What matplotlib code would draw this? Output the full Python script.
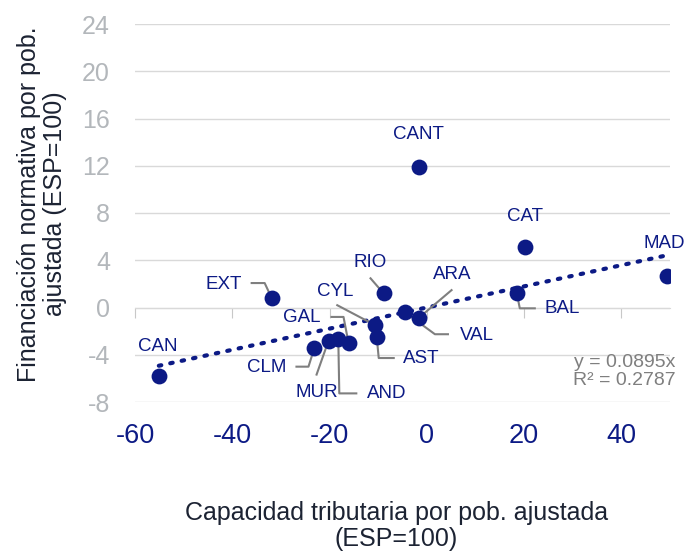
import numpy as np
import matplotlib
matplotlib.use("Agg")
from matplotlib import pyplot as plt

# Capacidad tributaria (x) y financiación normativa (y), desviación respecto a ESP=100
regions = ["CAN", "EXT", "CLM", "MUR", "AND", "GAL", "CYL", "AST",
           "RIO", "VAL", "ARA", "CANT", "BAL", "CAT", "MAD"]
capacidad = [-55.1, -31.9, -23.1, -20.2, -18.2, -16.1, -10.6, -10.3,
             -8.9, -4.5, -1.7, -1.7, 18.5, 20.2, 49.3]
financiacion = [-5.8, 0.8, -3.4, -2.8, -2.7, -3.0, -1.5, -2.5,
                1.2, -0.4, -0.9, 11.9, 1.2, 5.1, 2.7]

slope = 0.0895
r2 = 0.2787

y_ticks = [-8, -4, 0, 4, 8, 12, 16, 20, 24]
x_ticks = [-60, -40, -20, 0, 20, 40]

# label offsets in pixels (dx right, dy down) and leader-line vertices
label_off = {
    "CAN": (-1, -30), "EXT": (-48, -14), "CLM": (-48, 20), "MUR": (-12, 52),
    "AND": (48, 54), "GAL": (-47, -25), "CYL": (-40, -34), "AST": (44, 21),
    "RIO": (-13, -31), "VAL": (72, 23), "ARA": (34, -44), "CANT": (0, -32),
    "BAL": (45, 15), "CAT": (0, -31), "MAD": (-2, -32),
}
leaders = {
    "EXT": [(-20, -15), (-7, -15), (0, 0)],
    "CLM": [(-18, 19), (-6, 19), (0, 0)],
    "MUR": [(-12, 34), (0, 0)],
    "AND": [(18, 54), (1, 54), (0, 0)],
    "GAL": [(-17, -26), (-5, -26), (0, 0)],
    "CYL": [(-38, -20), (0, 0)],
    "AST": [(17, 21), (2, 21), (0, 0)],
    "RIO": [(-13, -15), (0, 0)],
    "ARA": [(33, -28), (0, 0)],
    "VAL": [(43, 22), (30, 22), (0, 0)],
    "BAL": [(18, 15), (3, 15), (0, 0)],
}

navy = "#0c1a85"
dark = "#1c2333"
grey_tick = "#b3b7bb"

plt.rcParams['font.family'] = ['Liberation Sans', 'DejaVu Sans']
plt.rcParams['axes.unicode_minus'] = False

fig = plt.figure(figsize=(6.89, 5.53), dpi=100)
ax = fig.add_axes([135 / 689, 1 - 402 / 553, 535 / 689, 378 / 553])

ax.set_xlim(-60, 50)
ax.set_ylim(-8, 24)
ax.set_yticks(y_ticks)
ax.set_xticks(x_ticks)
ax.grid(axis='y', color='#d9d9d9', lw=1)
ax.set_axisbelow(True)
for s in ax.spines.values():
    s.set_visible(False)
ax.tick_params(axis='y', length=0, pad=18, labelsize=18, labelcolor=grey_tick)
ax.tick_params(axis='x', length=0, pad=15, labelsize=19.5, labelcolor=navy)

# tick marks on the zero line
sec = ax.secondary_xaxis(0.25)
sec.set_xticks(x_ticks)
sec.tick_params(direction='out', length=7, color='#c8c8c8', labelbottom=False)
sec.spines['bottom'].set_color('#d9d9d9')

# trend line through origin
xs = np.array([min(capacidad), max(capacidad)])
ax.plot(xs, slope * xs, color=navy, lw=3, linestyle=(0, (0.6, 2.2)),
        dash_capstyle='round', zorder=3)

ax.scatter(capacidad, financiacion, s=130, color=navy, zorder=5, linewidths=0)

fig.canvas.draw()
for name, x, y in zip(regions, capacidad, financiacion):
    px, py = ax.transData.transform((x, y))
    if name in leaders:
        pts = np.array(leaders[name], dtype=float)
        ax.plot(px + pts[:, 0], py - pts[:, 1], transform=None,
                color='#7f7f7f', lw=1.5, zorder=4)
    dx, dy = label_off[name]
    ax.annotate(name, (x, y), xytext=(dx * 0.72, -dy * 0.72), textcoords='offset points',
                ha='center', va='center', fontsize=13.5, color=navy, zorder=6)

ax.text(1.01, 0.081, "y = 0.0895x\nR² = %.4f" % r2, transform=ax.transAxes,
        ha='right', va='center', fontsize=14, color='#7f7f7f', linespacing=1.05)

fig.text(0.5755, 0.049, "Capacidad tributaria por pob. ajustada\n(ESP=100)",
         ha='center', va='center', fontsize=18, color=dark, linespacing=1.1)
fig.text(0.061, 0.631, "Financiación normativa por pob.\najustada (ESP=100)",
         ha='center', va='center', rotation=90, fontsize=18, color=dark, linespacing=1.1)

fig.savefig("out.png", dpi=100)
